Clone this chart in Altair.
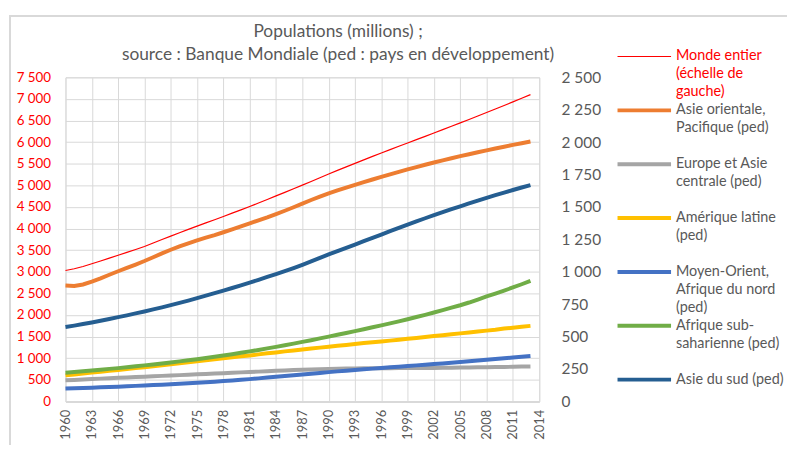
import altair as alt
import pandas as pd

years = list(range(1960, 2014))

world = [3030, 3070, 3122, 3186, 3250, 3315, 3382, 3448, 3515, 3585,
         3668, 3747, 3826, 3904, 3981, 4057, 4131, 4205, 4280, 4357,
         4433, 4511, 4592, 4674, 4756, 4838, 4921, 5006, 5091, 5177,
         5264, 5347, 5429, 5510, 5590, 5670, 5749, 5827, 5905, 5982,
         6059, 6135, 6212, 6289, 6367, 6445, 6525, 6605, 6686, 6768,
         6850, 6932, 7015, 7100]

asie_orientale = [894, 891, 902, 925, 950, 977, 1004, 1030, 1056, 1083,
                  1112, 1142, 1170, 1196, 1220, 1242, 1263, 1283, 1305, 1327,
                  1350, 1373, 1397, 1420, 1445, 1471, 1498, 1526, 1554, 1580,
                  1605, 1628, 1650, 1671, 1692, 1712, 1732, 1752, 1771, 1790,
                  1808, 1826, 1843, 1860, 1876, 1892, 1907, 1922, 1937, 1951,
                  1965, 1979, 1992, 2005]

europe_asie_centrale = [163, 166, 169, 173, 176, 179, 182, 185, 188, 191,
                        194, 197, 200, 203, 206, 209, 212, 215, 218, 221,
                        224, 227, 230, 233, 236, 239, 242, 244, 247, 249,
                        251, 253, 254, 255, 256, 256, 256, 256, 257, 257,
                        257, 258, 258, 259, 260, 261, 262, 263, 264, 265,
                        266, 267, 269, 270]

amerique_latine = [201, 208, 215, 222, 229, 236, 243, 250, 257, 264,
                   272, 279, 287, 294, 302, 309, 317, 325, 332, 340,
                   348, 355, 363, 371, 378, 386, 393, 401, 408, 415,
                   422, 429, 436, 443, 450, 457, 463, 469, 476, 483,
                   490, 497, 504, 511, 518, 525, 532, 539, 546, 553,
                   562, 569, 576, 583]

moyen_orient = [99, 101, 104, 106, 109, 112, 114, 117, 120, 123,
                126, 129, 132, 136, 140, 144, 148, 152, 157, 162,
                167, 172, 178, 184, 190, 196, 202, 208, 214, 220,
                226, 232, 237, 243, 248, 253, 258, 263, 268, 273,
                278, 283, 288, 293, 299, 304, 310, 315, 321, 327,
                333, 339, 344, 350]

afrique_sub = [222, 227, 233, 239, 245, 251, 257, 264, 271, 278,
               285, 293, 301, 309, 317, 326, 335, 344, 354, 364,
               375, 386, 397, 409, 421, 433, 446, 459, 472, 486,
               500, 514, 528, 542, 557, 572, 587, 602, 618, 634,
               651, 668, 686, 704, 723, 742, 763, 786, 810, 832,
               855, 879, 904, 930]

asie_sud = [574, 585, 597, 609, 622, 636, 650, 664, 679, 694,
            710, 726, 743, 760, 778, 797, 816, 835, 855, 875,
            896, 917, 938, 960, 982, 1005, 1029, 1054, 1080, 1107,
            1134, 1160, 1185, 1210, 1236, 1261, 1287, 1313, 1339, 1364,
            1389, 1413, 1437, 1460, 1483, 1505, 1527, 1549, 1570, 1591,
            1611, 1631, 1650, 1668]

series_names = [
    "Monde entier (échelle de gauche)",
    "Asie orientale, Pacifique (ped)",
    "Europe et Asie centrale (ped)",
    "Amérique latine (ped)",
    "Moyen-Orient, Afrique du nord (ped)",
    "Afrique sub-saharienne (ped)",
    "Asie du sud (ped)",
]
legend_labels = [
    "Monde entier\n(échelle de\ngauche)",
    "Asie orientale,\nPacifique (ped)",
    "Europe et Asie\ncentrale (ped)",
    "Amérique latine\n(ped)",
    "Moyen-Orient,\nAfrique du nord\n(ped)",
    "Afrique sub-\nsaharienne (ped)",
    "Asie du sud (ped)",
]
series_colors = ["#FF0000", "#ED7D31", "#A5A5A5", "#FFC000", "#4472C4", "#70AD47", "#255E91"]

title_line1 = "Populations (millions) ;"
title_line2 = "source : Banque Mondiale (ped : pays en développement)"

x_ticks = list(range(1960, 2015, 3))
left_ticks = list(range(0, 7501, 500))
right_ticks = list(range(0, 2501, 250))

# ---- tables ----
df_world = pd.DataFrame({"annee": years, "pop": world, "serie": series_names[0]})
regional = [asie_orientale, europe_asie_centrale, amerique_latine,
            moyen_orient, afrique_sub, asie_sud]
df_reg = pd.concat(
    [pd.DataFrame({"annee": years, "pop": vals, "serie": name, "ordre": i})
     for i, (name, vals) in enumerate(zip(series_names[1:], regional))],
    ignore_index=True,
)
df_leg = pd.DataFrame({"serie": series_names, "label": legend_labels,
                       "idx": list(range(len(series_names)))})
df_one = pd.DataFrame({"t": [title_line1], "k": [0]})
df_two = pd.DataFrame({"t": [title_line2], "k": [0]})

FONT = "Lato"
GRAY = "#595959"
GRID = "#D9D9D9"
W, H = 478, 327

color_scale = alt.Scale(domain=series_names, range=series_colors)

x_enc = alt.X(
    "annee:Q",
    scale=alt.Scale(domain=[1960, 2014], nice=False, zero=False),
    axis=alt.Axis(values=x_ticks, format="d", labelAngle=-90, title=None,
                  grid=True, gridColor=GRID, ticks=False, labelPadding=8,
                  domainColor=GRID, domainWidth=2, labelFontSize=13,
                  labelColor=GRAY, labelFont=FONT, labelFlush=False,
                  labelOverlap=False),
)

fmt = "replace(format(datum.value, ','), ',', ' ')"

world_line = alt.Chart(df_world).mark_line(strokeWidth=1.2).encode(
    x=x_enc,
    y=alt.Y("pop:Q", scale=alt.Scale(domain=[0, 7500], nice=False),
            axis=alt.Axis(values=left_ticks, labelExpr=fmt, labelColor="#FF0000",
                          labelFontSize=13.5, labelFont=FONT, grid=True, gridColor=GRID,
                          domain=False, ticks=False, labelPadding=15, title=None,
                          orient="left")),
    color=alt.Color("serie:N", scale=color_scale, legend=None),
)

reg_lines = alt.Chart(df_reg).mark_line(strokeWidth=4).encode(
    x=x_enc,
    y=alt.Y("pop:Q", scale=alt.Scale(domain=[0, 2500], nice=False),
            axis=alt.Axis(values=right_ticks, labelExpr=fmt, labelColor=GRAY,
                          labelFontSize=15.5, labelFont=FONT, grid=False,
                          domain=False, ticks=False, labelPadding=22, title=None,
                          orient="right", labelAlign="left")),
    color=alt.Color("serie:N", scale=color_scale, legend=None),
    order=alt.Order("ordre:Q"),
)

leg_y = alt.Y("idx:Q", scale=alt.Scale(domain=[0, 6], range=[-21, 305]), axis=None)

leg_rules = alt.Chart(df_leg).mark_rule().encode(
    x=alt.value(557), x2=alt.value(611), y=leg_y,
    color=alt.Color("serie:N", scale=color_scale, legend=None),
    strokeWidth=alt.condition("datum.idx == 0", alt.value(1.2), alt.value(4)),
)

leg_text = alt.Chart(df_leg).mark_text(
    align="left", baseline="top", dy=-7, lineBreak="\n", fontSize=14.5,
    font=FONT, lineHeight=18,
).encode(
    x=alt.value(616), y=leg_y, text="label:N",
    color=alt.condition("datum.idx == 0", alt.value("#FF0000"), alt.value(GRAY)),
)

t1 = alt.Chart(df_one).mark_text(
    align="center", baseline="middle", fontSize=17.5, font=FONT, color=GRAY
).encode(x=alt.value(275), y=alt.value(-46), text="t:N")
t2 = alt.Chart(df_two).mark_text(
    align="center", baseline="middle", fontSize=17.5, font=FONT, color=GRAY
).encode(x=alt.value(275), y=alt.value(-23), text="t:N")

# light frame around the whole chart (only its top and left edges fall inside the page)
frame = alt.Chart(df_one).mark_rect(fillOpacity=0, stroke=GRID, strokeWidth=2).encode(
    x=alt.value(-56), x2=alt.value(900), y=alt.value(-62), y2=alt.value(600))

chart = alt.layer(
    frame, world_line, reg_lines, leg_rules, leg_text, t1, t2
).resolve_scale(y="independent").properties(
    width=W, height=H,
    autosize=alt.AutoSizeParams(type="none"),
    padding={"left": 58, "top": 68, "right": 250, "bottom": 42},
).configure_view(stroke=None).configure(font=FONT)

chart.save("out.html", embed_options={"renderer": "svg", "actions": False})
